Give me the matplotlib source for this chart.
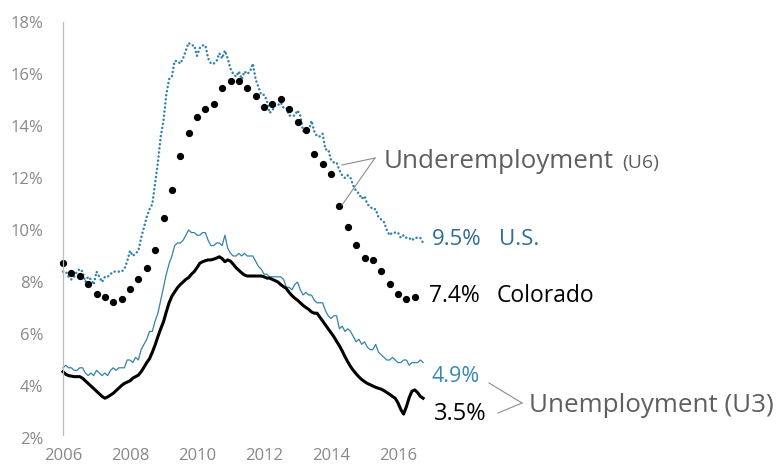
import numpy as np
import matplotlib
matplotlib.use("Agg")
import matplotlib.pyplot as plt

# ---- data ----
start_year = 2006
# U.S. U6 monthly, Jan 2006 - Oct 2016 (%)
us_u6 = [
    8.4, 8.4, 8.2, 8.1, 8.2, 8.4, 8.5, 8.4, 8.0, 8.2, 8.1, 7.9,
    8.4, 8.2, 8.0, 8.2, 8.2, 8.3, 8.4, 8.4, 8.4, 8.4, 8.5, 8.8,
    9.2, 9.0, 9.1, 9.2, 9.7, 10.1, 10.5, 10.8, 11.0, 11.8, 12.6, 13.6,
    14.2, 15.2, 15.8, 15.9, 16.5, 16.5, 16.4, 16.6, 16.9, 17.2, 17.1, 17.1,
    16.7, 17.0, 17.1, 17.1, 16.6, 16.4, 16.4, 16.5, 16.8, 16.6, 16.9, 16.6,
    16.2, 16.0, 15.9, 16.1, 15.8, 16.1, 16.0, 16.1, 16.4, 15.8, 15.5, 15.2,
    15.2, 15.0, 14.5, 14.6, 14.8, 14.8, 14.9, 14.7, 14.7, 14.4, 14.4, 14.4,
    14.6, 14.4, 13.8, 13.9, 13.8, 14.2, 13.8, 13.6, 13.6, 13.7, 13.1, 13.1,
    12.7, 12.6, 12.6, 12.3, 12.1, 12.0, 12.1, 12.0, 11.7, 11.5, 11.4, 11.2,
    11.3, 11.0, 10.9, 10.8, 10.8, 10.5, 10.4, 10.3, 10.0, 9.8, 9.9, 9.9,
    9.9, 9.7, 9.8, 9.7, 9.7, 9.6, 9.7, 9.7, 9.7, 9.5,
]
# U.S. U3 monthly (%)
us_u3 = [
    4.7, 4.8, 4.7, 4.7, 4.6, 4.6, 4.7, 4.7, 4.5, 4.4, 4.5, 4.4,
    4.6, 4.5, 4.4, 4.5, 4.4, 4.6, 4.7, 4.6, 4.7, 4.7, 4.7, 5.0,
    5.0, 4.9, 5.1, 5.0, 5.4, 5.6, 5.8, 6.1, 6.1, 6.5, 6.8, 7.3,
    7.8, 8.3, 8.7, 9.0, 9.4, 9.5, 9.5, 9.6, 9.8, 10.0, 9.9, 9.9,
    9.8, 9.8, 9.9, 9.9, 9.6, 9.4, 9.4, 9.5, 9.5, 9.4, 9.8, 9.3,
    9.1, 9.0, 9.0, 9.1, 9.0, 9.1, 9.0, 9.0, 9.0, 8.8, 8.6, 8.5,
    8.3, 8.3, 8.2, 8.2, 8.2, 8.2, 8.2, 8.1, 7.8, 7.8, 7.7, 7.9,
    8.0, 7.7, 7.5, 7.6, 7.5, 7.5, 7.3, 7.2, 7.2, 7.2, 6.9, 6.7,
    6.6, 6.7, 6.7, 6.2, 6.3, 6.1, 6.2, 6.1, 5.9, 5.7, 5.8, 5.6,
    5.7, 5.5, 5.4, 5.4, 5.6, 5.3, 5.2, 5.1, 5.0, 5.0, 5.1, 5.0,
    4.9, 4.9, 5.0, 5.0, 4.8, 4.9, 4.9, 4.9, 5.0, 4.9,
]
# Colorado U3 monthly (%)
co_u3 = [
    4.55, 4.45, 4.40, 4.38, 4.36, 4.36, 4.36, 4.30, 4.20, 4.10, 4.00, 3.90,
    3.80, 3.70, 3.60, 3.53, 3.58, 3.65, 3.72, 3.82, 3.92, 4.02, 4.10, 4.15,
    4.20, 4.30, 4.36, 4.42, 4.55, 4.72, 4.90, 5.05, 5.30, 5.58, 5.90, 6.20,
    6.47, 6.85, 7.20, 7.45, 7.62, 7.78, 7.90, 8.00, 8.10, 8.17, 8.30, 8.40,
    8.55, 8.72, 8.78, 8.82, 8.85, 8.85, 8.88, 8.92, 8.97, 8.90, 8.78, 8.85,
    8.80, 8.68, 8.55, 8.45, 8.35, 8.27, 8.23, 8.23, 8.23, 8.23, 8.23, 8.23,
    8.20, 8.15, 8.15, 8.10, 8.05, 8.00, 7.90, 7.82, 7.75, 7.60, 7.48, 7.38,
    7.30, 7.20, 7.10, 7.02, 6.95, 6.85, 6.80, 6.80, 6.65, 6.50, 6.35, 6.20,
    6.05, 5.90, 5.72, 5.55, 5.35, 5.13, 4.93, 4.75, 4.60, 4.47, 4.35, 4.25,
    4.17, 4.10, 4.05, 4.00, 3.95, 3.91, 3.88, 3.82, 3.75, 3.68, 3.60, 3.53,
    3.35, 3.10, 2.92, 3.20, 3.55, 3.80, 3.85, 3.75, 3.60, 3.53,
]
# Colorado U6 quarterly, 2006Q1 - 2016Q3 (%)
co_u6 = [
    8.74, 8.33, 8.23, 7.92, 7.53, 7.43, 7.23, 7.33, 7.73, 8.13, 8.54, 9.24,
    10.45, 11.54, 12.85, 13.74, 14.35, 14.65, 14.85, 15.45, 15.74, 15.74,
    15.45, 15.14, 14.74, 14.85, 15.04, 14.65, 14.14, 13.85, 12.94, 12.54,
    12.14, 10.93, 10.13, 9.43, 8.93, 8.83, 8.43, 7.93, 7.53, 7.33, 7.43,
]
x_ticks = [2006, 2008, 2010, 2012, 2014, 2016]
y_ticks = [2, 4, 6, 8, 10, 12, 14, 16, 18]

t_month = start_year + np.arange(len(us_u6)) / 12.0
t_quarter = start_year + np.arange(len(co_u6)) / 4.0

# ---- styling ----
TEAL_LINE = "#3282AE"
TEAL_TEXT = "#2F6C98"
TEAL_TEXT2 = "#3A88B2"
GREY = "#5f5f5f"
TICK_GREY = "#888888"
plt.rcParams["font.family"] = ["Open Sans", "DejaVu Sans"]

W, H = 778, 470
fig = plt.figure(figsize=(W / 100, H / 100), dpi=100)
left_px, right_px, top_px, bot_px = 63, 430, 22, 438
ax = fig.add_axes([left_px / W, (H - bot_px) / H,
                   (right_px - left_px) / W, (bot_px - top_px) / H])
px_per_year = 33.5
ax.set_xlim(2006, 2006 + (right_px - left_px) / px_per_year)
ax.set_ylim(2, 18)

ax.plot(t_month, us_u6, color=TEAL_LINE, lw=1.8,
        linestyle=(0, (0.05, 1.6)), dash_capstyle="round", clip_on=False)
ax.plot(t_month, us_u3, color=TEAL_LINE, lw=0.9, clip_on=False)
ax.plot(t_month, co_u3, color="black", lw=2.2, solid_joinstyle="round",
        clip_on=False)
ax.plot(t_quarter, co_u6, "o", color="black", ms=4.2, clip_on=False)

for s in ["top", "right", "bottom"]:
    ax.spines[s].set_visible(False)
ax.spines["left"].set_color("#bdbdbd")
ax.spines["left"].set_linewidth(0.9)
ax.spines["left"].set_bounds(2.1, 18)

ax.set_yticks(y_ticks)
ax.set_yticklabels([f"{v}%" for v in y_ticks])
ax.set_xticks(x_ticks)
ax.set_xticklabels([str(v) for v in x_ticks])
ax.tick_params(axis="both", length=0, labelsize=12, colors=TICK_GREY)
ax.tick_params(axis="y", pad=14)
ax.tick_params(axis="x", pad=7)

# ---- annotations (figure pixel coordinates, baseline aligned) ----
def fx(x):
    return x / W

def fy(y):
    return 1 - y / H

def label(x, y_base, s, size, color):
    fig.text(fx(x), fy(y_base), s, fontsize=size, color=color,
             va="baseline", ha="left")

label(384, 168, "Underemployment", 18.7, GREY)
label(622, 168, "(U6)", 14, GREY)
label(432, 245, "9.5%", 16, TEAL_TEXT)
label(499, 245, "U.S.", 16, TEAL_TEXT)
label(429, 302, "7.4%", 16.5, "black")
label(497, 302, "Colorado", 16.5, "black")
label(431, 382, "4.9%", 15.5, TEAL_TEXT2)
label(434, 420, "3.5%", 17, "black")
label(529, 412, "Unemployment (U3)", 18.7, GREY)

def seg(x0, y0, x1, y1):
    fig.add_artist(plt.Line2D([fx(x0), fx(x1)], [fy(y0), fy(y1)],
                              color="#8c8c8c", lw=0.8))

seg(375, 158, 342, 165)
seg(375, 158, 342, 205)
seg(522, 403, 489, 383)
seg(522, 403, 498, 413)

fig.savefig("out.png", dpi=100)
